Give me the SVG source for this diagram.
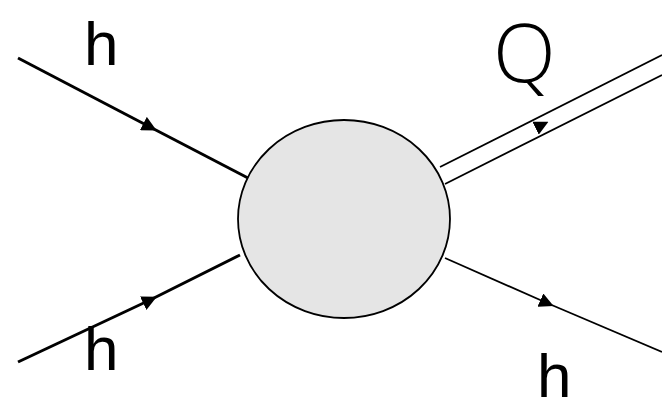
<svg xmlns="http://www.w3.org/2000/svg" width="662" height="403" viewBox="0 0 662 403">
<style>
.lbl{font-family:"Liberation Sans",Arial,sans-serif;font-size:62px;fill:#000}
.q{font-family:"Open Sans","DejaVu Sans",sans-serif;font-weight:300;font-size:82px;fill:#000}
.thick{stroke:#000;stroke-width:3;fill:none}
.thin{stroke:#000;stroke-width:1.8;fill:none}
</style>
<defs>
<marker id="ah" viewBox="0 0 10 10" refX="5" refY="5" markerWidth="5" markerHeight="5" orient="auto" markerUnits="strokeWidth">
<path d="M0,0 L10,5 L0,10 Z" fill="#000"/>
</marker>
<marker id="ahs" viewBox="0 0 10 10" refX="5" refY="5" markerWidth="8" markerHeight="8" orient="auto" markerUnits="strokeWidth">
<path d="M0,0 L10,5 L0,10 Z" fill="#000"/>
</marker>
</defs>
<g id="connectors">
<path class="thick" d="M18,58 L150,127" marker-end="url(#ah)"/>
<path class="thick" d="M150,127 L248,178"/>
<path class="thick" d="M18,362 L150,300" marker-end="url(#ah)"/>
<path class="thick" d="M150,300 L240,255"/>
<path class="thin" d="M440,167 L662,55"/>
<path class="thin" d="M445,184 L662,75"/>
<path class="thin" d="M500,146 L542,125" marker-end="url(#ahs)" stroke-opacity="0"/>
<path class="thin" d="M445,258 L547,303" marker-end="url(#ahs)"/>
<path class="thin" d="M547,303 L662,352"/>
</g>
<g id="blob">
<ellipse cx="344" cy="219" rx="106" ry="99" fill="#e5e5e5" stroke="#000" stroke-width="1.8"/>
</g>
<g id="label-h1"><text class="lbl" x="84" y="65">h</text></g>
<g id="label-h2"><text class="lbl" x="84" y="370">h</text></g>
<g id="label-h3"><text class="lbl" x="537" y="397">h</text></g>
<g id="label-Q"><text class="q" x="493" y="82">Q</text></g>
</svg>
